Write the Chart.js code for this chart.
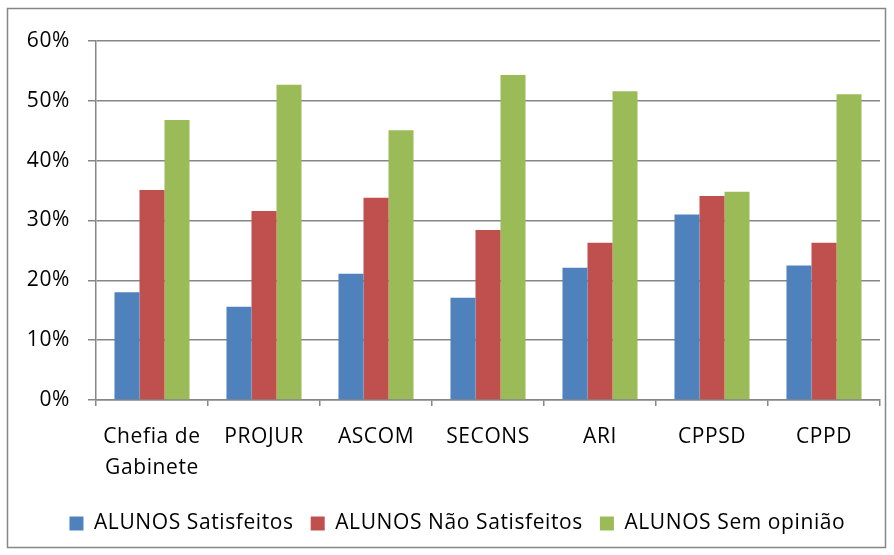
<!DOCTYPE html>
<html><head><meta charset="utf-8">
<script src="https://cdn.jsdelivr.net/npm/chart.js@4/dist/chart.umd.min.js"></script>
<style>html,body{margin:0;padding:0;background:#fff;}#wrap{position:absolute;left:0;top:0;width:894px;height:555px;}</style>
</head><body><div id="wrap"><canvas id="c" width="894" height="555"></canvas></div>
<script>
const categories = [["Chefia de","Gabinete"],"PROJUR","ASCOM","SECONS","ARI","CPPSD","CPPD"];
const seriesNames = ["ALUNOS Satisfeitos","ALUNOS Não Satisfeitos","ALUNOS Sem opinião"];
const satisfeitos = [18.0,15.6,21.1,17.1,22.1,31.0,22.5];
const naoSatisfeitos = [35.1,31.6,33.8,28.4,26.3,34.1,26.3];
const semOpiniao = [46.8,52.7,45.1,54.3,51.6,34.8,51.1];
const yTicks = [0,10,20,30,40,50,60];
const colors = ["#4F81BD","#C0504D","#9BBB59"];
const FONT = "Open Sans";
const FS = 21;

const borderPlugin = {id:'outer', beforeDraw(chart){const c=chart.ctx;c.save();c.fillStyle='#fff';c.fillRect(0,0,chart.width,chart.height);c.strokeStyle='#868686';c.lineWidth=1.5;c.strokeRect(7.5,8.5,878,539);c.restore();}};
const spacingPlugin = {id:'spacing', beforeInit(chart){chart.ctx.letterSpacing='0.6px';}, beforeDraw(chart){chart.ctx.letterSpacing='0.6px';}};

new Chart(document.getElementById('c'),{
  type:'bar',
  data:{labels:categories,datasets:[
    {label:seriesNames[0],data:satisfeitos,backgroundColor:colors[0]},
    {label:seriesNames[1],data:naoSatisfeitos,backgroundColor:colors[1]},
    {label:seriesNames[2],data:semOpiniao,backgroundColor:colors[2]}
  ]},
  options:{
    responsive:false,animation:false,devicePixelRatio:1,
    layout:{padding:{left:0,right:14,top:41,bottom:11}},
    datasets:{bar:{categoryPercentage:0.67,barPercentage:1}},
    plugins:{
      legend:{position:'bottom',labels:{font:{family:FONT,size:FS},color:'#000',boxWidth:14,boxHeight:14,padding:17}},
      tooltip:{enabled:false}
    },
    scales:{
      x:{
        grid:{display:true,offset:true,drawOnChartArea:false,drawTicks:true,tickLength:6,color:'#868686',lineWidth:1.5},
        border:{display:true,color:'#868686',width:1.5},
        ticks:{font:{family:FONT,size:FS,lineHeight:1.45},color:'#000',padding:16,maxRotation:0,autoSkip:false},
        afterFit(s){s.height=96;}
      },
      y:{
        min:0,max:60,
        afterBuildTicks(s){s.ticks=yTicks.map(v=>({value:v}));},
        grid:{color:'#868686',lineWidth:1.5,tickLength:8},
        border:{display:true,color:'#868686',width:1.5},
        ticks:{font:{family:FONT,size:FS},color:'#000',padding:18,callback:v=>v+'%'},
        afterFit(s){s.width=96;}
      }
    }
  },
  plugins:[borderPlugin,spacingPlugin]
});
</script></body></html>
